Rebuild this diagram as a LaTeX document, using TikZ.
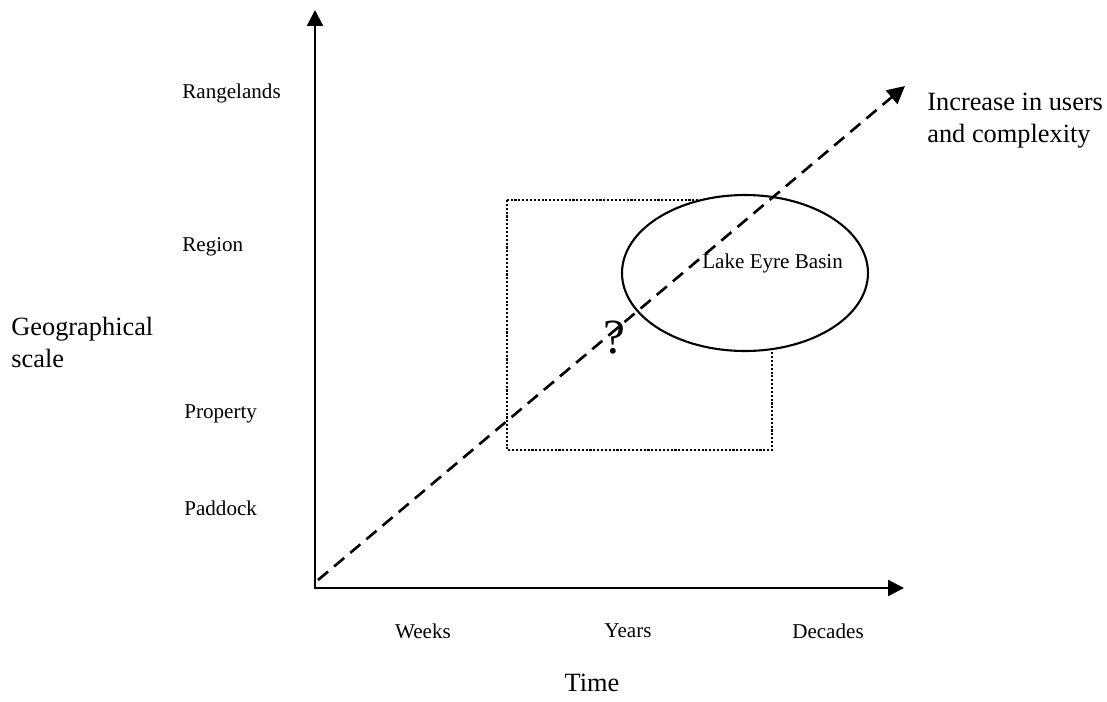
\documentclass[tikz,border=0pt]{standalone}
\usepackage{fontspec}
\setmainfont{Liberation Serif}
\usetikzlibrary{arrows.meta,positioning,shapes.geometric}

\begin{document}
\begin{tikzpicture}[x=0.02cm,y=-0.02cm,
  axisline/.style={line width=1.3pt,{Triangle[length=9pt,width=9pt]}-{Triangle[length=9pt,width=9pt]}},
  trendline/.style={line width=1.5pt,dash pattern=on 7.5pt off 4.5pt,-{Triangle[length=10pt,width=10pt]}},
  scalelbl/.style={font=\fontsize{12}{14}\selectfont,inner sep=0pt},
  titlelbl/.style={font=\fontsize{15}{18.2}\selectfont,inner sep=0pt,align=left}]
\useasboundingbox (0,0) rectangle (1107,701);
% Axes
\coordinate (O) at (315,588);
\coordinate (ytop) at (315,10);
\coordinate (xend) at (904,588);
\draw[axisline] (ytop) -- (O) -- (xend);
% Dotted window and the basin
\draw[densely dotted, line width=1.2pt] (507,200) rectangle (772,450);
\node[ellipse, draw, fill=white, line width=1.2pt, minimum width=4.92cm, minimum height=3.12cm] (basin) at (745,273) {};
\node[scalelbl, anchor=west] (basinlbl) at (702,263) {Lake Eyre Basin};
% Trend arrow
\coordinate (tstart) at (318,580);
\coordinate (tend) at (905,86);
\draw[trendline] (tstart) -- (tend);
\node[font=\fontsize{28}{30}\selectfont, inner sep=0pt] (query) at (614,338) {?};
% Scale labels
\node[scalelbl, anchor=west] (rangelands) at (182,93) {Rangelands};
\node[scalelbl, anchor=west] (region) at (182,247) {Region};
\node[scalelbl, anchor=west] (property) at (184,414) {Property};
\node[scalelbl, anchor=west] (paddock) at (184,508) {Paddock};
\node[scalelbl] (weeks) at (423,631) {Weeks};
\node[scalelbl] (years) at (628,631) {Years};
\node[scalelbl] (decades) at (828,631) {Decades};
% Axis titles
\node[titlelbl, anchor=west] (geo) at (11,342) {Geographical\\scale};
\node[titlelbl] (time) at (592,683) {Time};
\node[titlelbl, anchor=west] (users) at (927,121) {Increase in users\\and complexity};
\end{tikzpicture}
\end{document}
